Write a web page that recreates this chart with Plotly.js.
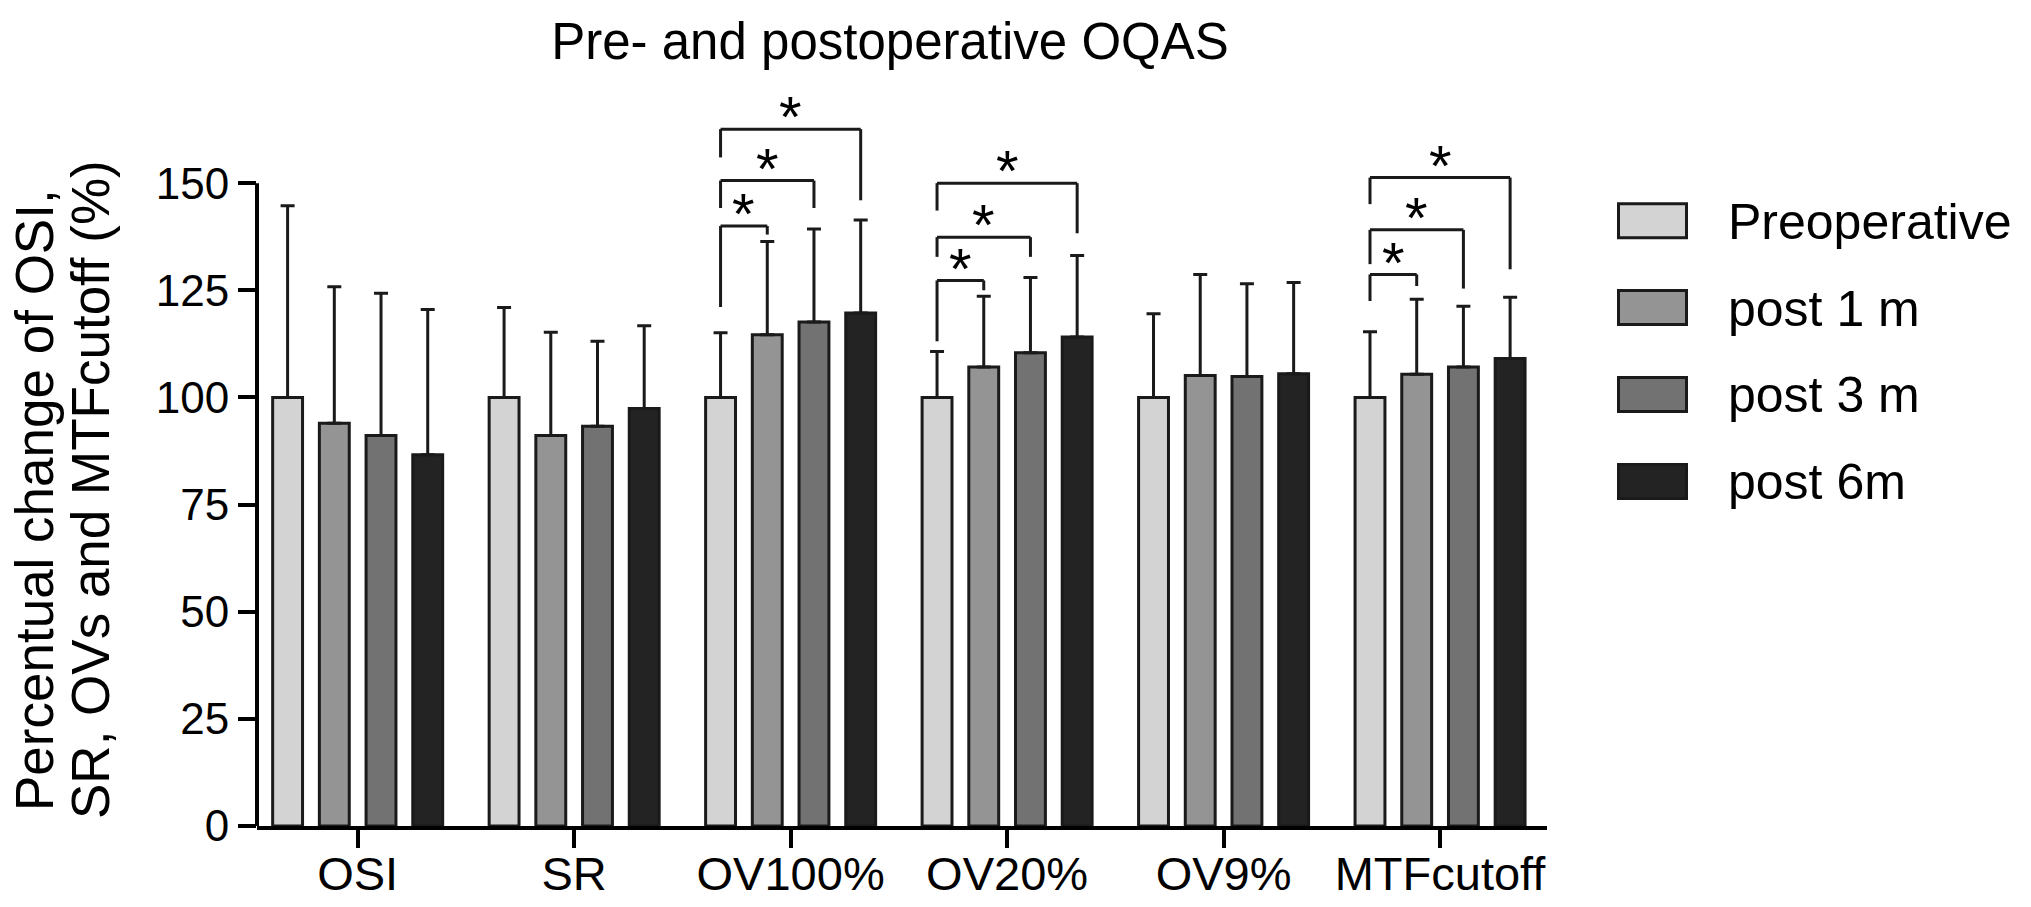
<!DOCTYPE html>
<html><head><meta charset="utf-8">
<script src="https://cdn.plot.ly/plotly-3.0.1.min.js"></script>
<style>html,body{margin:0;padding:0;background:#fff}#chart{width:2031px;height:907px}</style>
</head><body><div id="chart"></div>
<script>
// ---- data ----
const categories = ['OSI', 'SR', 'OV100%', 'OV20%', 'OV9%', 'MTFcutoff'];
const seriesNames = ['Preoperative', 'post 1 m', 'post 3 m', 'post 6m'];
const preoperative = [100, 100, 100, 100, 100, 100];
const post1m = [94.0, 91.1, 114.6, 107.1, 105.1, 105.4];
const post3m = [91.1, 93.3, 117.6, 110.4, 104.9, 107.1];
const post6m = [86.6, 97.4, 119.7, 114.1, 105.5, 109.1];
const preoperativeSD = [44.7, 21.0, 15.1, 10.7, 19.5, 15.3];
const post1mSD = [31.8, 24.1, 21.8, 16.5, 23.6, 17.5];
const post3mSD = [33.2, 19.8, 21.7, 17.6, 21.6, 14.2];
const post6mSD = [33.9, 19.3, 21.7, 19.0, 21.3, 14.3];
const yTickValues = [0, 25, 50, 75, 100, 125, 150];
const yTitleLines = ['Percentual change of OSI,', 'SR, OVs and MTFcutoff (%)'];

// significance brackets (preoperative vs. series sigTarget within category sigCategory)
const sigCategory = [2, 2, 2, 3, 3, 3, 5, 5, 5];
const sigTarget = [1, 2, 3, 1, 2, 3, 1, 2, 3];
const sigTop = [140.0, 150.6, 162.6, 127.3, 137.4, 150.0, 128.7, 139.1, 151.3];
const sigLeftEnd = [121.1, 144.2, 156.0, 113.1, 132.8, 143.6, 122.5, 131.1, 145.1];
const sigRightEnd = [138.0, 144.2, 146.0, 125.0, 132.8, 138.3, 126.0, 125.4, 129.9];
const sigLabel = ['*', '*', '*', '*', '*', '*', '*', '*', '*'];

// ---- style / layout ----
const FONT = 'Arial, "Liberation Sans", Helvetica, sans-serif';
const fills = ['#d3d3d3', '#949494', '#727272', '#232323'];
const edge = '#1a1a1a';
const values = [preoperative, post1m, post3m, post6m];
const sds = [preoperativeSD, post1mSD, post3mSD, post6mSD];
const BARGAP = 0.137, GROUPGAP = 0.36;
const YMAX = 175, YAXIS_END = 150;
const XRANGE = [-0.465, 5.494];
const M = {l: 257, r: 484, t: 76, b: 81};
const W = 2031 - M.l - M.r, H = 907 - M.t - M.b;
const px2x = px => (px - M.l) / W;
const py2y = py => 1 - (py - M.t) / H;

const xIdx = categories.map((c, i) => i);
const traces = values.map((v, k) => ({
  type: 'bar', name: seriesNames[k], x: xIdx, y: v,
  marker: {color: fills[k], line: {color: edge, width: 3}},
  error_y: {type: 'data', symmetric: false, array: sds[k], arrayminus: v.map(() => 0),
            color: edge, thickness: 3, width: 7},
  showlegend: false, hoverinfo: 'skip'
}));

const slot = (1 - BARGAP) / seriesNames.length;
const barX = (i, k) => i + (k - (seriesNames.length - 1) / 2) * slot;

const shapes = [];
const annotations = [];
// y axis line (only up to 150)
shapes.push({type: 'line', xref: 'paper', yref: 'y', x0: 0, x1: 0, y0: 0, y1: YAXIS_END,
             line: {color: '#000', width: 4}});
sigCategory.forEach((c, j) => {
  const xl = barX(c, 0), xr = barX(c, sigTarget[j]);
  const ln = {color: edge, width: 3};
  shapes.push({type: 'line', xref: 'x', yref: 'y', x0: xl, x1: xl, y0: sigLeftEnd[j], y1: sigTop[j], line: ln});
  shapes.push({type: 'line', xref: 'x', yref: 'y', x0: xl, x1: xr, y0: sigTop[j], y1: sigTop[j], line: ln});
  shapes.push({type: 'line', xref: 'x', yref: 'y', x0: xr, x1: xr, y0: sigRightEnd[j], y1: sigTop[j], line: ln});
  annotations.push({xref: 'x', yref: 'y', x: (xl + xr) / 2, y: sigTop[j] + 2.9, text: sigLabel[j],
                    showarrow: false, xanchor: 'center', yanchor: 'middle',
                    font: {family: FONT, size: 58, color: '#000'}});
});
// legend
seriesNames.forEach((name, k) => {
  const cy = 220.7 + 86.9 * k;
  shapes.push({type: 'rect', xref: 'paper', yref: 'paper',
               x0: px2x(1618.5), x1: px2x(1686.5), y0: py2y(cy - 17), y1: py2y(cy + 17),
               fillcolor: fills[k], line: {color: edge, width: 3}});
  annotations.push({xref: 'paper', yref: 'paper', x: px2x(1726), y: py2y(cy + 1), text: name,
                    showarrow: false, xanchor: 'left', yanchor: 'middle',
                    font: {family: FONT, size: 50, color: '#000'}});
});
// y axis title (two rotated lines)
const yTitleX = [34, 90], yTitleY = [500, 490];
yTitleLines.forEach((t, i) => {
  annotations.push({xref: 'paper', yref: 'paper', x: px2x(yTitleX[i]), y: py2y(yTitleY[i]),
                    text: t, textangle: -90, showarrow: false, xanchor: 'center', yanchor: 'middle',
                    font: {family: FONT, size: 53, color: '#000'}});
});

const layout = {
  width: 2031, height: 907,
  margin: M,
  paper_bgcolor: '#fff', plot_bgcolor: '#fff',
  barmode: 'group', bargap: BARGAP, bargroupgap: GROUPGAP,
  font: {family: FONT, color: '#000'},
  title: {text: 'Pre- and postoperative OQAS', xref: 'container', yref: 'container',
          x: 890 / 2031, y: 1 - 41 / 907, xanchor: 'center', yanchor: 'middle',
          font: {family: FONT, size: 51, color: '#000'}},
  xaxis: {type: 'linear', range: XRANGE, tickvals: xIdx, ticktext: categories,
          showline: true, linecolor: '#000', linewidth: 4, ticks: 'outside', ticklen: 18,
          tickwidth: 4, tickcolor: '#000', showgrid: false, zeroline: false,
          ticklabelstandoff: -14,
          tickfont: {family: FONT, size: 47, color: '#000'}, fixedrange: true},
  yaxis: {range: [0, YMAX], tickvals: yTickValues, showline: false, ticks: 'outside',
          ticklen: 18, tickwidth: 4, tickcolor: '#000', showgrid: false, zeroline: false,
          tickfont: {family: FONT, size: 44, color: '#000'}, fixedrange: true},
  shapes: shapes, annotations: annotations, showlegend: false
};
Plotly.newPlot('chart', traces, layout, {displayModeBar: false, staticPlot: true});
</script></body></html>
